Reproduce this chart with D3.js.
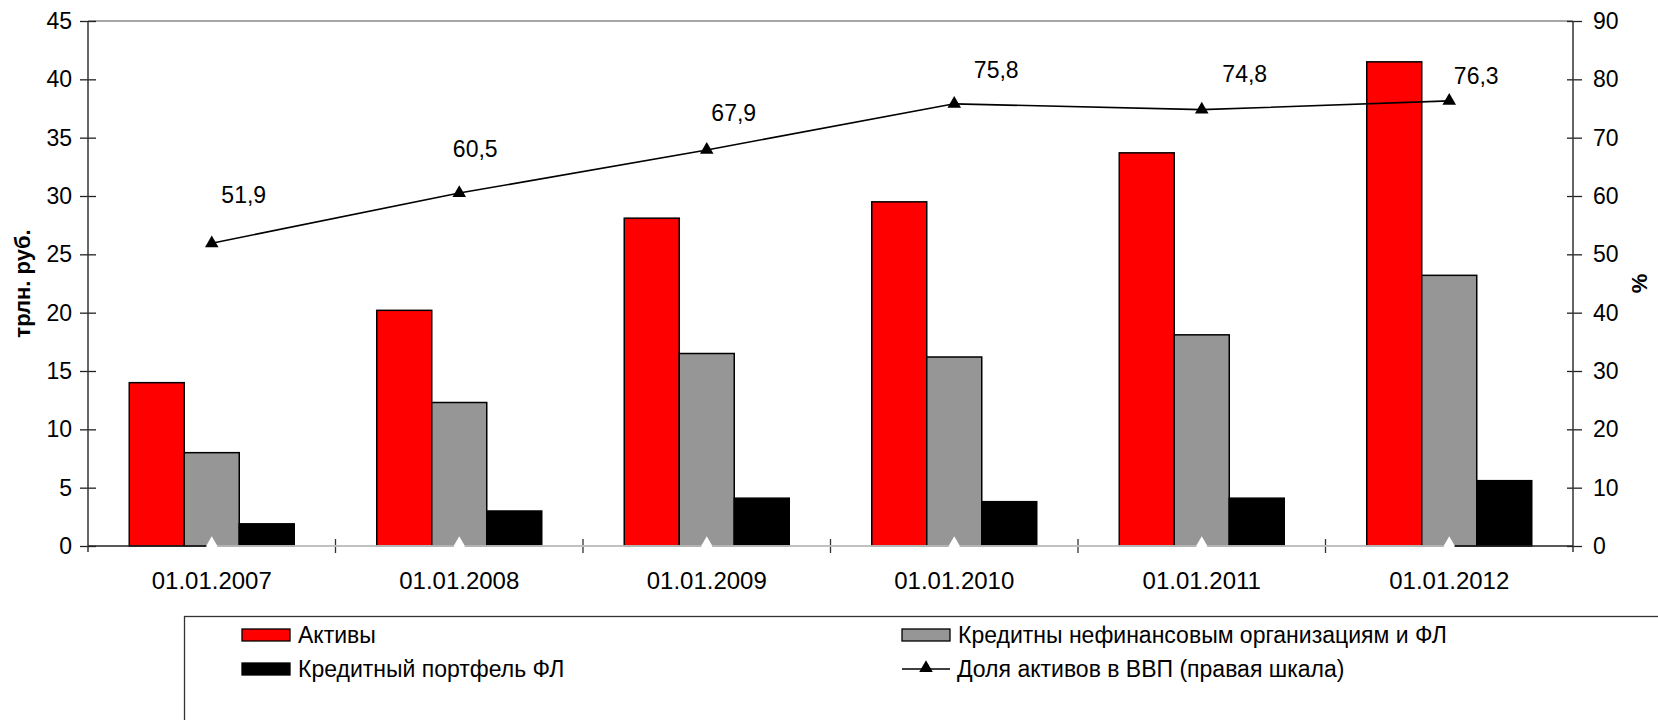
<!DOCTYPE html>
<html>
<head>
<meta charset="utf-8">
<script src="https://cdn.jsdelivr.net/npm/d3@7"></script>
<style>
  body { margin: 0; background: #fff; }
  svg { display: block; font-family: "Liberation Sans", Arial, sans-serif; }
  .axis text { font-size: 23px; fill: #000; }
  .axis path { display: none; }
  .axis line { stroke: #222; stroke-width: 1.3; }
</style>
</head>
<body>
<svg id="chart" width="1658" height="720"></svg>
<script>
  // data
  var dates = ["01.01.2007", "01.01.2008", "01.01.2009", "01.01.2010", "01.01.2011", "01.01.2012"];
  var assets = [14.0, 20.2, 28.1, 29.5, 33.7, 41.5];
  var loans = [8.0, 12.3, 16.5, 16.2, 18.1, 23.2];
  var retail = [1.9, 3.0, 4.1, 3.8, 4.1, 5.6];
  var gdpShare = [51.9, 60.5, 67.9, 75.8, 74.8, 76.3];
  var baseSeries = [0, 0, 0, 0, 0, 0];
  var leftTicks = [0, 5, 10, 15, 20, 25, 30, 35, 40, 45];
  var rightTicks = [0, 10, 20, 30, 40, 50, 60, 70, 80, 90];

  var barSeries = [
    { key: "assets", name: "Активы", values: assets, color: "#ff0000" },
    { key: "loans", name: "Кредитны нефинансовым организациям и ФЛ", values: loans, color: "#969696" },
    { key: "retail", name: "Кредитный портфель ФЛ", values: retail, color: "#000000" }
  ];
  var lineName = "Доля активов в ВВП (правая шкала)";

  var svg = d3.select("#chart");
  var pLeft = 88, pRight = 1573, pTop = 21, pBottom = 546;

  var x0 = d3.scaleBand().domain(dates).range([pLeft, pRight]).padding(0);
  var x1 = d3.scaleBand().domain(barSeries.map(function(s) { return s.key; }))
    .range([0, x0.bandwidth()]).paddingInner(0).paddingOuter(0.75);
  var yL = d3.scaleLinear().domain([0, 45]).range([pBottom, pTop]);
  var yR = d3.scaleLinear().domain([0, 90]).range([pBottom, pTop]);

  // top border
  svg.append("line")
    .attr("x1", pLeft).attr("x2", pRight).attr("y1", pTop).attr("y2", pTop)
    .attr("stroke", "#888").attr("stroke-width", 1.3);

  // bars
  barSeries.forEach(function(s) {
    svg.append("g").selectAll("rect")
      .data(s.values)
      .enter().append("rect")
      .attr("x", function(d, i) { return x0(dates[i]) + x1(s.key); })
      .attr("y", function(d) { return yL(d); })
      .attr("width", x1.bandwidth())
      .attr("height", function(d) { return yL(0) - yL(d); })
      .attr("fill", s.color)
      .attr("stroke", "#000")
      .attr("stroke-width", 1.5);
  });

  // left axis
  var gl = svg.append("g").attr("class", "axis")
    .attr("transform", "translate(" + pLeft + ",0)")
    .call(d3.axisLeft(yL).tickValues(leftTicks).tickSize(8).tickPadding(8));
  gl.selectAll(".tick line").attr("x1", 8);
  svg.append("line")
    .attr("x1", pLeft).attr("x2", pLeft).attr("y1", pTop).attr("y2", pBottom + 6)
    .attr("stroke", "#333").attr("stroke-width", 1.5);

  // right axis
  var gr = svg.append("g").attr("class", "axis")
    .attr("transform", "translate(" + pRight + ",0)")
    .call(d3.axisRight(yR).tickValues(rightTicks).tickSize(9).tickPadding(11));
  gr.selectAll(".tick line").attr("x1", -6);
  svg.append("line")
    .attr("x1", pRight).attr("x2", pRight).attr("y1", pTop).attr("y2", pBottom + 6)
    .attr("stroke", "#333").attr("stroke-width", 1.5);

  // x axis with category separators
  svg.append("line")
    .attr("x1", pLeft).attr("x2", pRight).attr("y1", pBottom).attr("y2", pBottom)
    .attr("stroke", "#222").attr("stroke-width", 1.5);
  svg.append("g").selectAll("line")
    .data(dates.slice(1))
    .enter().append("line")
    .attr("x1", function(d) { return x0(d); })
    .attr("x2", function(d) { return x0(d); })
    .attr("y1", pBottom - 7).attr("y2", pBottom + 7)
    .attr("stroke", "#333").attr("stroke-width", 1.3);
  svg.append("g").selectAll("text")
    .data(dates)
    .enter().append("text")
    .attr("x", function(d) { return x0(d) + x0.bandwidth() / 2; })
    .attr("y", 589)
    .attr("text-anchor", "middle")
    .attr("font-size", 24)
    .text(function(d) { return d; });

  var cx = function(d, i) { return x0(dates[i]) + x0.bandwidth() / 2; };

  // zero series drawn over the axis (white line, white diamonds)
  svg.append("path")
    .datum(baseSeries)
    .attr("fill", "none")
    .attr("stroke", "#e4e4e4")
    .attr("stroke-width", 1.6)
    .attr("d", d3.line().x(cx).y(function(d) { return yR(d); }));
  svg.append("g").selectAll("path")
    .data(baseSeries)
    .enter().append("path")
    .attr("transform", function(d, i) { return "translate(" + cx(d, i) + "," + yR(d) + ")"; })
    .attr("d", d3.symbol().type(d3.symbolDiamond).size(110))
    .attr("fill", "#fff");

  // gdp share line
  svg.append("path")
    .datum(gdpShare)
    .attr("fill", "none")
    .attr("stroke", "#000")
    .attr("stroke-width", 1.6)
    .attr("d", d3.line().x(cx).y(function(d) { return yR(d); }));
  svg.append("g").selectAll("path")
    .data(gdpShare)
    .enter().append("path")
    .attr("transform", function(d, i) { return "translate(" + cx(d, i) + "," + yR(d) + ")"; })
    .attr("d", d3.symbol().type(d3.symbolTriangle).size(80))
    .attr("fill", "#000");

  // value labels were nudged by hand in the original
  var nudge = [[32, -40], [16, -36], [27, -29], [42, -26], [43, -28], [27, -17]];
  svg.append("g").selectAll("text")
    .data(gdpShare)
    .enter().append("text")
    .attr("x", function(d, i) { return cx(d, i) + nudge[i][0]; })
    .attr("y", function(d, i) { return yR(d) + nudge[i][1]; })
    .attr("text-anchor", "middle")
    .attr("font-size", 23)
    .text(function(d) { return String(d.toFixed(1)).replace(".", ","); });

  // axis titles
  svg.append("text")
    .attr("transform", "translate(30," + (pTop + pBottom) / 2 + ") rotate(-90)")
    .attr("text-anchor", "middle")
    .attr("font-size", 22).attr("font-weight", "bold")
    .text("трлн. руб.");
  svg.append("text")
    .attr("transform", "translate(1647," + (pTop + pBottom) / 2 + ") rotate(-90)")
    .attr("text-anchor", "middle")
    .attr("font-size", 22).attr("font-weight", "bold")
    .text("%");

  // legend
  var lg = svg.append("g");
  lg.append("rect")
    .attr("x", 184.5).attr("y", 616.5).attr("width", 1600).attr("height", 200)
    .attr("fill", "#fff").attr("stroke", "#333").attr("stroke-width", 1.3);

  var items = [
    { x: 242, y: 635, s: barSeries[0] },
    { x: 902, y: 635, s: barSeries[1] },
    { x: 242, y: 669, s: barSeries[2] }
  ];
  items.forEach(function(it) {
    lg.append("rect")
      .attr("x", it.x).attr("y", it.y - 6).attr("width", 48).attr("height", 12)
      .attr("fill", it.s.color).attr("stroke", "#000").attr("stroke-width", 1.3);
    lg.append("text")
      .attr("x", it.x + 56).attr("y", it.y + 8)
      .attr("font-size", 23)
      .text(it.s.name);
  });
  lg.append("line")
    .attr("x1", 902).attr("x2", 950).attr("y1", 669).attr("y2", 669)
    .attr("stroke", "#000").attr("stroke-width", 1.6);
  lg.append("path")
    .attr("transform", "translate(926,668)")
    .attr("d", d3.symbol().type(d3.symbolTriangle).size(80))
    .attr("fill", "#000");
  lg.append("text")
    .attr("x", 957).attr("y", 677)
    .attr("font-size", 23)
    .text(lineName);
</script>
</body>
</html>
